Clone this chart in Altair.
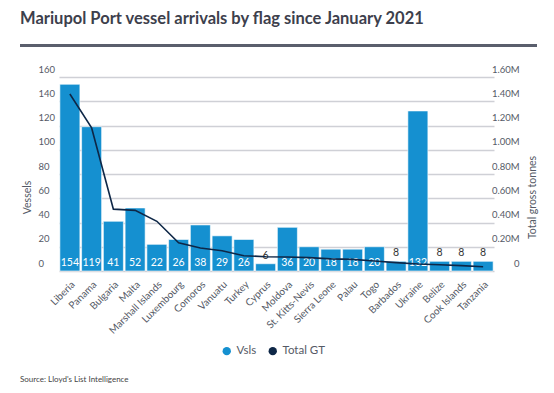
import altair as alt
import pandas as pd

flags = ["Liberia", "Panama", "Bulgaria", "Malta", "Marshall Islands", "Luxembourg",
         "Comoros", "Vanuatu", "Turkey", "Cyprus", "Moldova", "St. Kitts-Nevis",
         "Sierra Leone", "Palau", "Togo", "Barbados", "Ukraine", "Belize",
         "Cook Islands", "Tanzania"]
vessels = [154, 119, 41, 52, 22, 26, 38, 29, 26, 6, 36, 20, 18, 18, 20, 8, 132, 8, 8, 8]
total_gt = [1460000, 1180000, 510000, 500000, 410000, 233000, 190000, 167000, 126000,
            118000, 115000, 110000, 100000, 96000, 82000, 69000, 58000, 52000, 44000, 35000]
series_names = ["Vsls", "Total GT"]
series_colors = ["#1590d0", "#0e2747"]
vessel_ticks = [0, 20, 40, 60, 80, 100, 120, 140, 160]
gt_ticks = [0, 200000, 400000, 600000, 800000, 1000000, 1200000, 1400000, 1600000]

df = pd.DataFrame({"flag": flags, "vsls": vessels, "gt": total_gt, "series": "Vsls"})

FONT = "Lato"
LABEL = "#555a66"

x_scale = alt.Scale(range=[21, 456], paddingInner=0.08, paddingOuter=0.04)
x_axis = alt.Axis(title=None, labelAngle=-45, labelFontSize=10, labelColor=LABEL,
                  labelFont=FONT, ticks=False, domain=False, labelPadding=8)


def x_enc():
    return alt.X("flag:N", sort=flags, scale=x_scale, axis=x_axis)


y_scale = alt.Scale(domain=[0, 160], nice=False)
y_axis = alt.Axis(title="Vessels", values=vessel_ticks, grid=True, gridColor="#cfd0d6",
                  gridWidth=1.5, ticks=False, tickSize=0, domain=False,
                  labelOverlap=False, labelBound=False, labelFlush=False,
                  labelPadding=0, labelAlign="left", labelBaseline="bottom",
                  labelOffset=-3, labelFontSize=9.5, labelColor=LABEL, labelFont=FONT,
                  titleFont=FONT, titleFontSize=10.5, titleFontWeight="normal",
                  titleColor=LABEL, titleX=-11, titleY=120, titleBaseline="middle",
                  titleAngle=270)

bars = alt.Chart(df).mark_bar(stroke="white", strokeWidth=0.6).encode(
    x=x_enc(),
    y=alt.Y("vsls:Q", scale=y_scale, axis=y_axis),
    color=alt.Color("series:N",
                    scale=alt.Scale(domain=series_names, range=series_colors),
                    legend=alt.Legend(title=None, orient="none", direction="horizontal",
                                      legendX=183, legendY=268, symbolType="circle",
                                      symbolSize=70, labelFont=FONT, labelFontSize=11.5,
                                      labelColor=LABEL, columnPadding=10, symbolStrokeWidth=0)),
)

labels = alt.Chart(df).transform_calculate(
    ly="datum.vsls >= 10 ? 0 : datum.vsls"
).mark_text(baseline="bottom", dy=-3, font=FONT, fontSize=10.5).encode(
    x=x_enc(),
    y=alt.Y("ly:Q", scale=y_scale, axis=y_axis),
    text=alt.Text("vsls:Q"),
    color=alt.condition("datum.vsls >= 10", alt.value("white"), alt.value("#333333")),
)

left_layer = alt.layer(bars, labels)

line = alt.Chart(df).mark_line(color="#0e2747", strokeWidth=1.6).encode(
    x=x_enc(),
    y=alt.Y("gt:Q", scale=alt.Scale(domain=[0, 1600000], nice=False),
            axis=alt.Axis(orient="right", title="Total gross tonnes", values=gt_ticks,
                          grid=False, ticks=False, tickSize=0, domain=False, labelPadding=0,
                          labelOverlap=False, labelBound=False, labelFlush=False,
                          labelAlign="right", labelBaseline="bottom", labelOffset=-3,
                          labelFontSize=9.5, labelColor=LABEL, labelFont=FONT,
                          labelExpr="datum.value == 0 ? '0' : format(datum.value / 1000000, '.2f') + 'M'",
                          titleFont=FONT, titleFontSize=10.5, titleFontWeight="normal",
                          titleColor=LABEL, titleX=13, titleY=120, titleBaseline="middle",
                          titleAngle=270)),
)

sep = alt.Chart(df).mark_rule(color="#5b5f6d", strokeWidth=2).encode(
    x=alt.value(-18), x2=alt.value(499), y=alt.value(-31.5)
)

source = alt.Chart(pd.DataFrame({"t": ["Source: Lloyd's List Intelligence"]})).mark_text(
    align="left", baseline="middle", font=FONT, fontSize=8, color="#444444"
).encode(x=alt.value(-18), y=alt.value(303), text="t:N")

chart = alt.layer(left_layer, line, sep, source).resolve_scale(y="independent").properties(
    width=481, height=194,
    autosize=alt.AutoSizeParams(type="none"),
    padding={"left": 30, "top": 69, "right": 27, "bottom": 114},
    title=alt.TitleParams(text="Mariupol Port vessel arrivals by flag since January 2021",
                          anchor="start", frame="group", dx=-18, offset=17, font=FONT,
                          fontSize=16.5, fontWeight="bold", color="#3d404c"),
).configure_view(stroke=None)

chart.save("out.html", embed_options={"renderer": "svg", "actions": False})
